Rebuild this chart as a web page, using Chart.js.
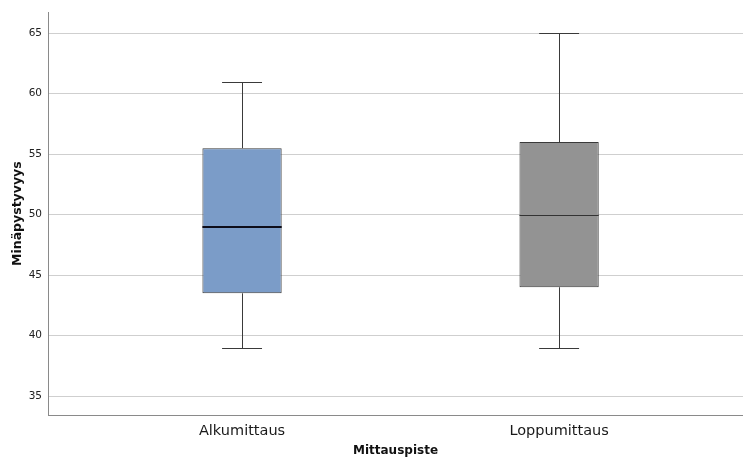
<!DOCTYPE html>
<html>
<head>
<meta charset="utf-8">
<script src="https://cdn.jsdelivr.net/npm/chart.js@4.4.0/dist/chart.umd.min.js"></script>
<style>
html,body{margin:0;padding:0;background:#fff;}
#wrap{width:743px;height:459px;position:relative;}
</style>
</head>
<body>
<div id="wrap"><canvas id="c" width="743" height="459"></canvas></div>
<script>
const categories = ['Alkumittaus', 'Loppumittaus'];
const positions = [1, 2];
const whiskerMin = [39, 39];
const q1 = [43.5, 44];
const median = [49, 50];
const q3 = [55.5, 56];
const whiskerMax = [61, 65];
const yTicks = [35, 40, 45, 50, 55, 60, 65];
const boxColors = ['#7b9cc8', '#939393'];
const medianWidths = [2, 1];

const boxPlugin = {
  id: 'boxparts',
  beforeDatasetsDraw(chart) {
    const ctx = chart.ctx, xs = chart.scales.x, ys = chart.scales.y;
    ctx.save();
    ctx.strokeStyle = '#3a3a3a';
    ctx.lineWidth = 1;
    positions.forEach((p, i) => {
      const x = Math.round(xs.getPixelForValue(p)) + 0.5;
      const capL = xs.getPixelForValue(p - 0.063);
      const capR = xs.getPixelForValue(p + 0.063);
      const yMin = Math.round(ys.getPixelForValue(whiskerMin[i])) + 0.5;
      const yMax = Math.round(ys.getPixelForValue(whiskerMax[i])) + 0.5;
      const yQ1 = ys.getPixelForValue(q1[i]);
      const yQ3 = ys.getPixelForValue(q3[i]);
      ctx.beginPath();
      ctx.moveTo(x, yQ3); ctx.lineTo(x, yMax);
      ctx.moveTo(x, yQ1); ctx.lineTo(x, yMin);
      ctx.moveTo(capL, yMax); ctx.lineTo(capR, yMax);
      ctx.moveTo(capL, yMin); ctx.lineTo(capR, yMin);
      ctx.stroke();
    });
    ctx.restore();
  },
  afterDatasetsDraw(chart) {
    const ctx = chart.ctx, ys = chart.scales.y;
    const meta = chart.getDatasetMeta(0);
    ctx.save();
    positions.forEach((p, i) => {
      const bar = meta.data[i];
      const half = bar.width / 2;
      const y = Math.round(ys.getPixelForValue(median[i])) + (medianWidths[i] % 2 ? 0.5 : 0);
      ctx.strokeStyle = i === 0 ? '#0d0d1a' : '#333333';
      ctx.lineWidth = medianWidths[i];
      ctx.beginPath();
      ctx.moveTo(bar.x - half, y);
      ctx.lineTo(bar.x + half, y);
      ctx.stroke();
    });
    ctx.restore();
  }
};

new Chart(document.getElementById('c'), {
  type: 'bar',
  data: {
    datasets: [{
      data: positions.map((p, i) => ({x: p, y: [q1[i], q3[i]]})),
      backgroundColor: boxColors,
      borderColor: '#3a3a3a',
      borderWidth: 1,
      borderSkipped: false,
      categoryPercentage: 1,
      barPercentage: 0.25
    }]
  },
  plugins: [boxPlugin],
  options: {
    responsive: false,
    animation: false,
    layout: {padding: {top: 10, right: 0, left: 0, bottom: 0}},
    plugins: {legend: {display: false}, tooltip: {enabled: false}},
    scales: {
      x: {
        type: 'linear',
        offset: false,
        min: 0.388,
        max: 2.58,
        grid: {display: false, drawTicks: false},
        border: {display: true, color: '#8a8a8a', width: 1},
        afterBuildTicks(scale) { scale.ticks = positions.map(v => ({value: v})); },
        afterFit(scale) { scale.height = 44; },
        ticks: {
          padding: 8,
          color: '#1a1a1a',
          font: {family: 'DejaVu Sans', size: 14.5},
          callback: (v) => categories[positions.indexOf(v)] || ''
        },
        title: {
          display: true,
          text: 'Mittauspiste',
          color: '#111',
          font: {family: 'DejaVu Sans', size: 12, weight: 'bold'},
          padding: {top: 0, bottom: 1}
        }
      },
      y: {
        min: 33.44,
        max: 66.73,
        grid: {color: '#cfcfcf', lineWidth: 1, drawTicks: false},
        border: {display: true, color: '#8a8a8a', width: 1},
        afterBuildTicks(scale) { scale.ticks = yTicks.map(v => ({value: v})); },
        afterFit(scale) { scale.width = 48; },
        ticks: {
          padding: 6,
          color: '#222',
          font: {family: 'DejaVu Sans', size: 10.5}
        },
        title: {
          display: true,
          text: 'Minäpystyvyys',
          color: '#111',
          font: {family: 'DejaVu Sans', size: 12.5, weight: 'bold'},
          padding: {top: 10, bottom: 0}
        }
      }
    }
  }
});
</script>
</body>
</html>
